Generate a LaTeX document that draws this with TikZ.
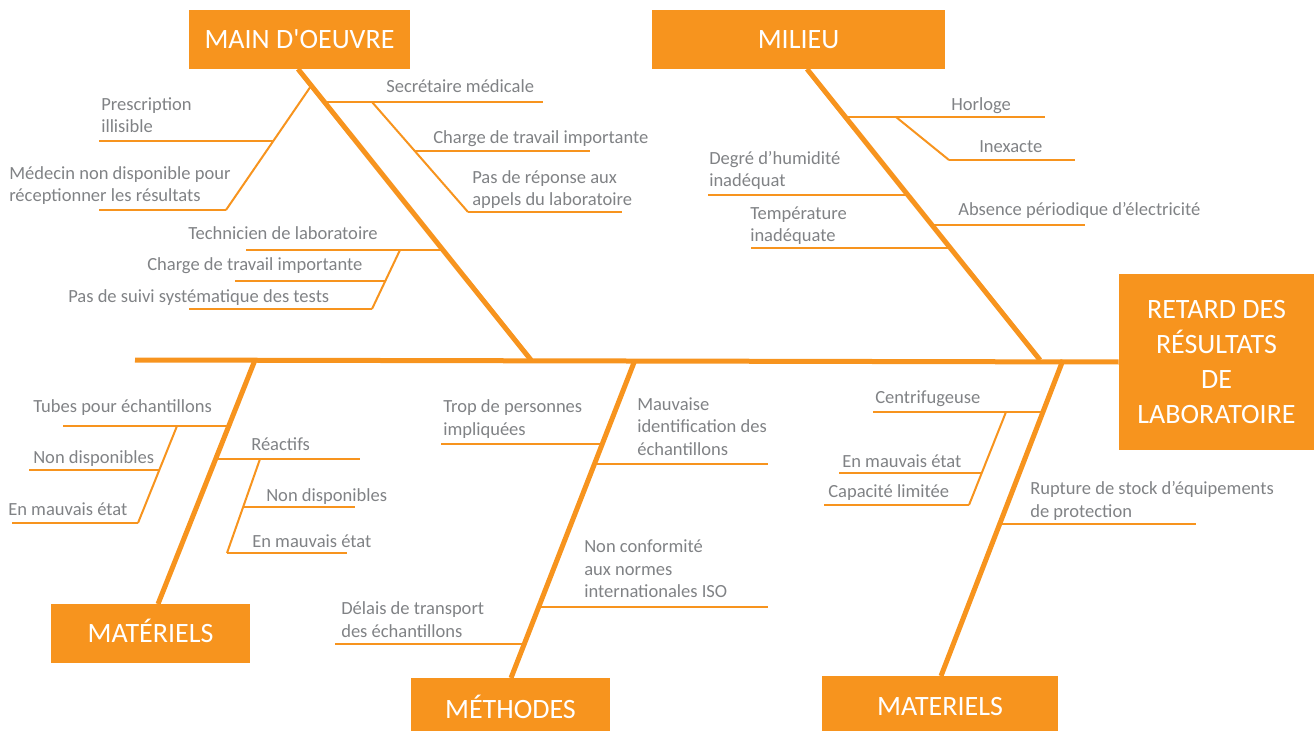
\documentclass[tikz,border=0pt]{standalone}
\usepackage{fontspec}
\setmainfont{Carlito}[Ligatures=TeXOff]
\newdimen\pxu \pxu=0.75pt
\definecolor{fishorange}{RGB}{247,148,30}
\definecolor{labelgray}{RGB}{128,130,133}
\begin{document}
\begin{tikzpicture}[x=0.75pt,y=-0.75pt,
  bone/.style={draw=fishorange,line width=3.75pt},
  rib/.style={draw=fishorange,line width=1.5pt},
  % labels are placed by the baseline of their last line
  lbl/.style={anchor=base west,inner sep=0pt,align=left,text=labelgray,
              font=\fontsize{13.9}{16.8}\selectfont},
  box/.style={fill=fishorange,text=white,inner sep=0pt,
              font=\fontsize{21}{26.25}\selectfont},
  capbox/.style={box,text height=13.5pt,text depth=0pt}]
\useasboundingbox (0,0) rectangle (1314,731);
\clip (0,0) rectangle (1314,731);

% category boxes and the effect
\node[capbox,minimum width=221\pxu,minimum height=59\pxu] (mo) at (299.5,39.5) {MAIN D'OEUVRE};
\node[capbox,minimum width=293\pxu,minimum height=59\pxu] (mi) at (798.5,39.5) {MILIEU};
\node[capbox,minimum width=199\pxu,minimum height=59\pxu] (ma1) at (150.5,633.5) {MATÉRIELS};
\node[capbox,minimum width=199\pxu,minimum height=62\pxu] (me) at (510.5,709) {MÉTHODES};
\node[capbox,minimum width=236\pxu,minimum height=61\pxu] (ma2) at (940,706.5) {MATERIELS};
\node[box,align=center,minimum width=195\pxu,minimum height=176\pxu] (ef) at (1216.5,362)
  {RETARD DES\\RÉSULTATS\\DE\\LABORATOIRE};

% spine and main bones
\coordinate (tail) at (135,360);
\coordinate (jmo) at (531,360);
\coordinate (jmi) at (1040,360);
\coordinate (jma1) at (255,360);
\coordinate (jme) at (635,360);
\coordinate (jma2) at (1063,360);
\coordinate (smo) at (298,69);
\coordinate (smi) at (807,69);
\coordinate (sma1) at (158,604);
\coordinate (sme) at (511,678);
\coordinate (sma2) at (941,676);
\draw[bone] (tail) -- (ef.west);
\draw[bone] (smo) -- (jmo);
\draw[bone] (smi) -- (jmi);
\draw[bone] (jma1) -- (sma1);
\draw[bone] (jme) -- (sme);
\draw[bone] (jma2) -- (sma2);

% MAIN D'OEUVRE ribs
\draw[rib] (311,86) -- (226,210);
\draw[rib] (99,141) -- (273,141);
\draw[rib] (99,210) -- (226,210);
\draw[rib] (324,102) -- (543,102);
\draw[rib] (372,102) -- (468,212);
\draw[rib] (415,151) -- (590,151);
\draw[rib] (468,212) -- (622,212);
\draw[rib] (246,250) -- (443,250);
\draw[rib] (400,250) -- (372,309);
\draw[rib] (235,281) -- (385,281);
\draw[rib] (189,309) -- (372,309);

\node[lbl] (t1) at (101,133) {Prescription\\illisible};
\node[lbl] (t2) at (9,202) {Médecin non disponible pour\\réceptionner les résultats};
\node[lbl] (t3) at (386,92.5) {Secrétaire médicale};
\node[lbl] (t4) at (433,144) {Charge de travail importante};
\node[lbl] (t5) at (472,206) {Pas de réponse aux\\appels du laboratoire};
\node[lbl] (t6) at (188,239.5) {Technicien de laboratoire};
\node[lbl] (t7) at (147,271) {Charge de travail importante};
\node[lbl] (t8) at (68,302) {Pas de suivi systématique des tests};

% MILIEU ribs
\draw[rib] (845,117) -- (1045,117);
\draw[rib] (896,117) -- (949,160);
\draw[rib] (949,160) -- (1075,160);
\draw[rib] (708,195) -- (908,195);
\draw[rib] (931,225) -- (1085,225);
\draw[rib] (751,248) -- (950,248);

\node[lbl] (m1) at (951,111) {Horloge};
\node[lbl] (m2) at (979,152.5) {Inexacte};
\node[lbl] (m3) at (709,187) {Degré d’humidité\\inadéquat};
\node[lbl] (m4) at (958,215) {Absence périodique d’électricité};
\node[lbl] (m5) at (750,242) {Température\\inadéquate};

% MATÉRIELS ribs
\draw[rib] (63,426) -- (229,426);
\draw[rib] (177,426) -- (138,523);
\draw[rib] (29,470) -- (159,470);
\draw[rib] (12,523) -- (138,523);
\draw[rib] (216,459) -- (360,459);
\draw[rib] (260,459) -- (227,553);
\draw[rib] (243,507) -- (355,507);
\draw[rib] (227,553) -- (347,553);

\node[lbl] (a1) at (33,412.5) {Tubes pour échantillons};
\node[lbl] (a2) at (33,463) {Non disponibles};
\node[lbl] (a3) at (8,515) {En mauvais état};
\node[lbl] (a4) at (251,450) {Réactifs};
\node[lbl] (a5) at (266,501) {Non disponibles};
\node[lbl] (a6) at (252,547) {En mauvais état};

% MÉTHODES ribs
\draw[rib] (441,444) -- (602,444);
\draw[rib] (595,464) -- (768,464);
\draw[rib] (539,607) -- (768,607);
\draw[rib] (335,644) -- (523,644);

\node[lbl] (e1) at (443,435) {Trop de personnes\\impliquées};
\node[lbl] (e2) at (637,455) {Mauvaise\\identification des\\échantillons};
\node[lbl] (e3) at (584,597.5) {Non conformité\\aux normes\\internationales ISO};
\node[lbl] (e4) at (341,637) {Délais de transport\\des échantillons};

% MATERIELS ribs
\draw[rib] (873,412) -- (1043,412);
\draw[rib] (1006,412) -- (969,505);
\draw[rib] (839,473) -- (982,473);
\draw[rib] (824,505) -- (969,505);
\draw[rib] (1000,524) -- (1196,524);

\node[lbl] (r1) at (875,403.5) {Centrifugeuse};
\node[lbl] (r2) at (842,467) {En mauvais état};
\node[lbl] (r3) at (828,497) {Capacité limitée};
\node[lbl] (r4) at (1030,517) {Rupture de stock d’équipements\\de protection};
\end{tikzpicture}
\end{document}
